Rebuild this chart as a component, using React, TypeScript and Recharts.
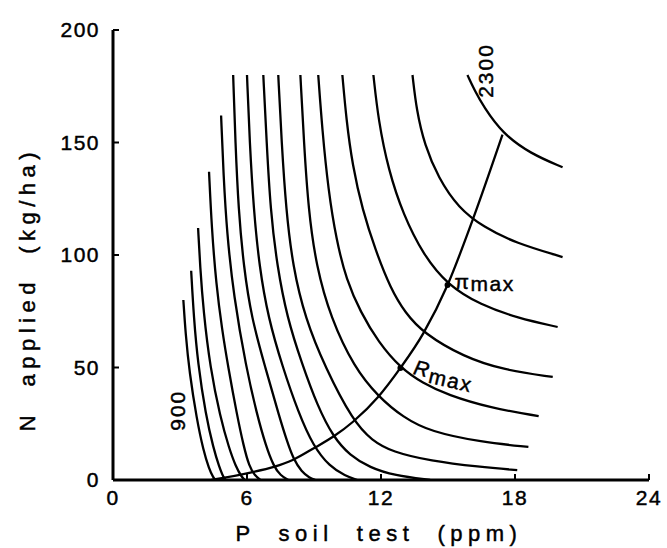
import React from 'react';
import { LineChart, Line, XAxis, YAxis, ReferenceDot, Label } from 'recharts';

const xTicks = [0, 6, 12, 18, 24];
const yTicks = [0, 50, 100, 150, 200];

// isoquants, yield 900 .. 2300 kg/ha, points are [P soil test, N applied]
const iso900 = [[3.15, 80], [3.25, 65], [3.42, 48], [3.75, 27], [4.05, 13], [4.3, 5], [4.5, 0.8], [4.6, 0]];
const iso1000 = [[3.5, 93], [3.62, 72], [3.8, 52], [4.15, 29], [4.5, 14], [4.75, 6], [4.95, 1], [5.05, 0]];
const iso1100 = [[3.81, 112], [3.9, 95], [4.05, 75], [4.35, 50], [4.8, 28], [5.2, 14], [5.5, 6], [5.75, 1.5], [5.9, 0]];
const iso1200 = [[4.3, 137], [4.42, 112], [4.62, 87], [4.88, 67], [5.16, 50], [5.55, 29], [5.85, 15], [6.1, 6], [6.35, 2], [6.6, 0]];
const iso1300 = [[4.84, 162], [4.95, 135], [5.1, 110], [5.4, 82], [5.96, 50], [6.45, 29], [6.85, 15], [7.2, 6], [7.5, 2], [7.85, 0]];
const iso1400 = [[5.38, 180], [5.48, 150], [5.62, 120], [5.85, 95], [6.2, 72], [6.82, 50], [7.45, 28], [7.8, 17], [8.07, 9.5], [8.45, 3.5], [8.8, 1], [9.06, 0]];
const iso1500 = [[6.0, 180], [6.12, 150], [6.3, 120], [6.55, 95], [6.95, 72], [7.6, 50], [8.3, 30], [8.97, 15], [9.7, 6], [10.4, 1.8], [10.94, 0]];
const iso1600 = [[6.73, 180], [6.88, 150], [7.05, 120], [7.35, 95], [7.8, 72], [8.45, 52], [9.15, 33], [9.87, 19], [10.6, 11], [11.5, 5.5], [12.6, 2], [14.2, 0]];
const iso1700 = [[7.4, 180], [7.55, 150], [7.75, 120], [8.05, 95], [8.6, 72], [9.5, 50], [10.76, 26], [11.6, 17.5], [12.5, 12.5], [14.2, 8.5], [16.4, 5.8], [18.1, 4.4]];
const iso1800 = [[8.39, 180], [8.55, 150], [8.75, 120], [9.1, 95], [9.75, 72], [10.8, 50], [11.88, 37], [13.0, 27.8], [14.2, 21.5], [16.5, 16.8], [18.6, 14.7]];
const iso1900 = [[9.19, 180], [9.37, 155.6], [9.64, 128.9], [10.0, 106.7], [10.45, 88.9], [11.08, 74.7], [11.88, 61.3], [12.87, 49.8], [13.86, 43.1], [14.98, 37.8], [16.9, 32], [19.06, 28.4]];
const iso2000 = [[10.27, 180], [10.45, 160], [10.72, 140], [11.17, 120], [11.75, 102.2], [12.42, 85.3], [13.09, 74.2], [13.9, 65.3], [15.7, 54.7], [17.49, 48.9], [19.69, 45.8]];
const iso2100 = [[11.66, 180], [11.88, 160], [12.33, 137.8], [13.0, 117.8], [13.9, 100], [14.98, 86.7], [16.46, 77.8], [18.12, 72], [19.91, 68]];
const iso2200 = [[13.41, 180], [13.59, 164.4], [13.95, 148.9], [14.57, 134.2], [15.47, 120.9], [16.59, 112.4], [18.03, 105.3], [20.13, 99.1]];
const iso2300 = [[15.87, 180], [16.2, 173], [16.59, 166], [17.44, 154], [18.7, 145], [20.13, 139]];

const expansionPath = [
  [4.4, 0], [6.1, 3.2], [7.2, 5.8], [8.07, 9], [8.97, 14], [9.87, 19.3], [10.76, 26],
  [11.88, 37], [12.87, 49.8], [13.9, 65.3], [14.98, 86.7], [16.1, 115.5], [17.44, 153.5],
];

const rMax = [12.87, 49.8];
const piMax = [14.98, 86.7];
const lowLabel = { text: '900', at: [2.91, 31] };
const highLabel = { text: '2300', at: [16.7, 182] };

const isoquants = [
  iso900, iso1000, iso1100, iso1200, iso1300, iso1400, iso1500, iso1600,
  iso1700, iso1800, iso1900, iso2000, iso2100, iso2200, iso2300,
];

const pts = (arr: number[][]) => arr.map(([x, y]) => ({ x, y }));

const FONT = '"Liberation Sans", Arial, sans-serif';
// scanned lettering is a bit heavier than the regular face
const heavy = { stroke: '#000', strokeWidth: 0.45 };

const rotatedLabel = (text: string) => (props: any) => {
  const { viewBox } = props;
  const cx = viewBox.x + viewBox.width / 2;
  const cy = viewBox.y + viewBox.height / 2;
  return (
    <text x={cx} y={cy} transform={`rotate(-90, ${cx}, ${cy})`} textAnchor="middle" dominantBaseline="central"
      fontFamily={FONT} fontSize={21} letterSpacing={2} fill="#000" {...heavy}>{text}</text>
  );
};

const RLabel = (props: any) => {
  const { viewBox } = props;
  const x = viewBox.x + viewBox.width / 2 + 12;
  const y = viewBox.y + viewBox.height / 2 + 6;
  return (
    <text x={x} y={y} transform={`rotate(13, ${x}, ${y})`} fontFamily={FONT} fontSize={21} letterSpacing={1.5} fill="#000" {...heavy}>
      <tspan fontStyle="italic">R</tspan><tspan dy={5}>max</tspan>
    </text>
  );
};

const PiLabel = (props: any) => {
  const { viewBox } = props;
  const x = viewBox.x + viewBox.width / 2 + 7;
  const y = viewBox.y + viewBox.height / 2 + 6;
  return (
    <text x={x} y={y} fontFamily={FONT} fontSize={21} letterSpacing={1.5} fill="#000" {...heavy}>
      <tspan dy={-2}>π</tspan><tspan dy={2}>max</tspan>
    </text>
  );
};

const tickStyle = { fontFamily: FONT, fontSize: 21, fill: '#000', letterSpacing: 1.5, ...heavy };

export default function App() {
  return (
    <div style={{ position: 'absolute', left: 0, top: 0, background: '#fff' }}>
      <LineChart width={667} height={548} margin={{ top: 30, right: 18, left: 0, bottom: 0 }}>
        <XAxis
          type="number"
          dataKey="x"
          domain={[0, 24]}
          ticks={xTicks}
          height={68}
          tickSize={-6}
          tickMargin={16}
          axisLine={{ stroke: '#000', strokeWidth: 3 }}
          tickLine={{ stroke: '#000', strokeWidth: 2 }}
          tick={tickStyle}
          allowDataOverflow
        >
          <Label
            content={(p: any) => {
              const vb = p.viewBox;
              return (
                <text x={vb.x + vb.width / 2 - 2} y={vb.y + 61} textAnchor="middle" fontFamily={FONT}
                  fontSize={22} letterSpacing={5.5} fill="#000" {...heavy} style={{ whiteSpace: 'pre' }}>
                  {'P  soil  test  (ppm)'}
                </text>
              );
            }}
          />
        </XAxis>
        <YAxis
          type="number"
          dataKey="y"
          domain={[0, 200]}
          ticks={yTicks}
          width={113}
          tickSize={-6}
          tickMargin={19}
          axisLine={{ stroke: '#000', strokeWidth: 3 }}
          tickLine={{ stroke: '#000', strokeWidth: 2 }}
          tick={tickStyle}
          allowDataOverflow
        >
          <Label
            content={(p: any) => {
              const vb = p.viewBox;
              const cx = 27;
              const cy = vb.y + vb.height / 2 + 34;
              return (
                <text x={cx} y={cy} transform={`rotate(-90, ${cx}, ${cy})`} textAnchor="middle" dominantBaseline="central"
                  fontFamily={FONT} fontSize={22} letterSpacing={5.5} fill="#000" {...heavy} style={{ whiteSpace: 'pre' }}>
                  {'N  applied  (kg/ha)'}
                </text>
              );
            }}
          />
        </YAxis>
        {isoquants.map((iso, i) => (
          <Line
            key={i}
            data={pts(iso)}
            dataKey="y"
            type="basis"
            stroke="#000"
            strokeWidth={2.3}
            dot={false}
            isAnimationActive={false}
          />
        ))}
        <Line
          data={pts(expansionPath)}
          dataKey="y"
          type="monotone"
          stroke="#000"
          strokeWidth={2.3}
          dot={false}
          isAnimationActive={false}
        />
        <ReferenceDot x={rMax[0]} y={rMax[1]} r={3} fill="#000" stroke="none" label={RLabel} />
        <ReferenceDot x={piMax[0]} y={piMax[1]} r={3} fill="#000" stroke="none" label={PiLabel} />
        <ReferenceDot x={lowLabel.at[0]} y={lowLabel.at[1]} r={0} fill="none" stroke="none" label={rotatedLabel(lowLabel.text)} />
        <ReferenceDot x={highLabel.at[0]} y={highLabel.at[1]} r={0} fill="none" stroke="none" label={rotatedLabel(highLabel.text)} />
      </LineChart>
    </div>
  );
}
